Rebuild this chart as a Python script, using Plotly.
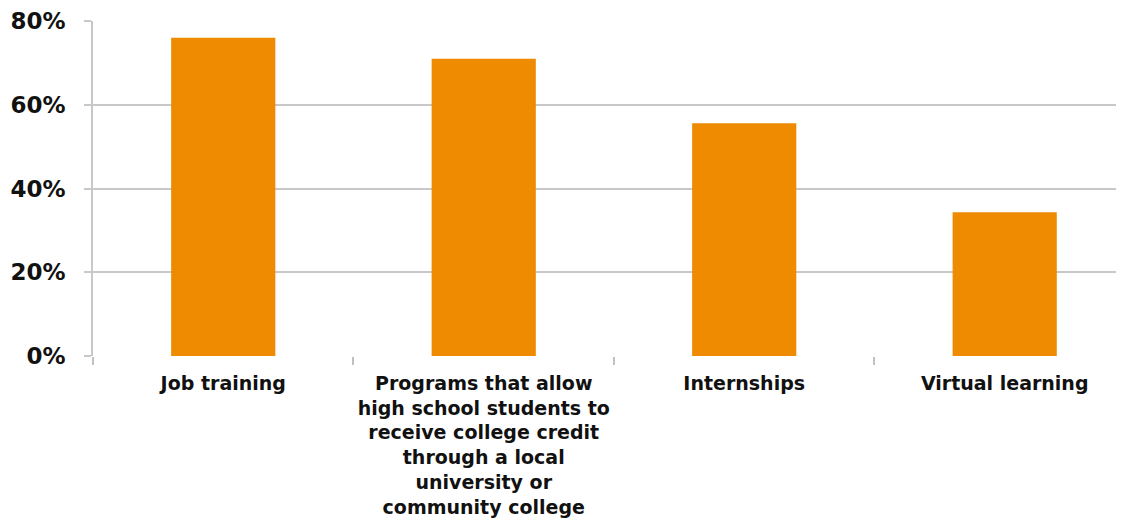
import plotly.graph_objects as go

categories = [
    "Job training",
    "Programs that allow<br>high school students to<br>receive college credit<br>through a local<br>university or<br>community college",
    "Internships",
    "Virtual learning",
]
values = [76, 71, 55.6, 34.3]
y_ticks = [0, 20, 40, 60, 80]
y_tick_labels = ["0%", "20%", "40%", "60%", "80%"]

FONT = "DejaVu Sans"

fig = go.Figure(
    go.Bar(
        x=categories,
        y=values,
        marker=dict(color="#EE8B00", line=dict(width=0)),
        width=0.4,
    )
)

# page body has an 8px margin, so the figure is offset by 8px
fig.update_layout(
    width=1116,
    height=517,
    margin=dict(l=85, r=0, t=13, b=169, autoexpand=False),
    plot_bgcolor="white",
    paper_bgcolor="white",
    showlegend=False,
    font=dict(family=FONT, color="#111111"),
)

fig.update_xaxes(
    range=[-0.5, 3.458],
    automargin=False,
    showgrid=False,
    showline=False,
    ticks="outside",
    tickson="boundaries",
    ticklen=8,
    tickcolor="#c0c0c0",
    tickwidth=1.5,
    tickangle=0,
    tickfont=dict(size=19, family=FONT, weight=700, color="#111111"),
    ticklabelstandoff=14,
)

fig.update_yaxes(
    range=[0, 80],
    automargin=False,
    tickvals=y_ticks,
    ticktext=y_tick_labels,
    showgrid=True,
    gridcolor="#c8c8c8",
    gridwidth=1.5,
    showline=True,
    linecolor="#c8c8c8",
    linewidth=1.5,
    ticks="outside",
    ticklen=7,
    tickcolor="#c8c8c8",
    tickwidth=1.5,
    tickfont=dict(size=23, family=FONT, weight=700, color="#111111"),
    ticklabelstandoff=14,
    zeroline=False,
)

fig.write_html("out.html")
